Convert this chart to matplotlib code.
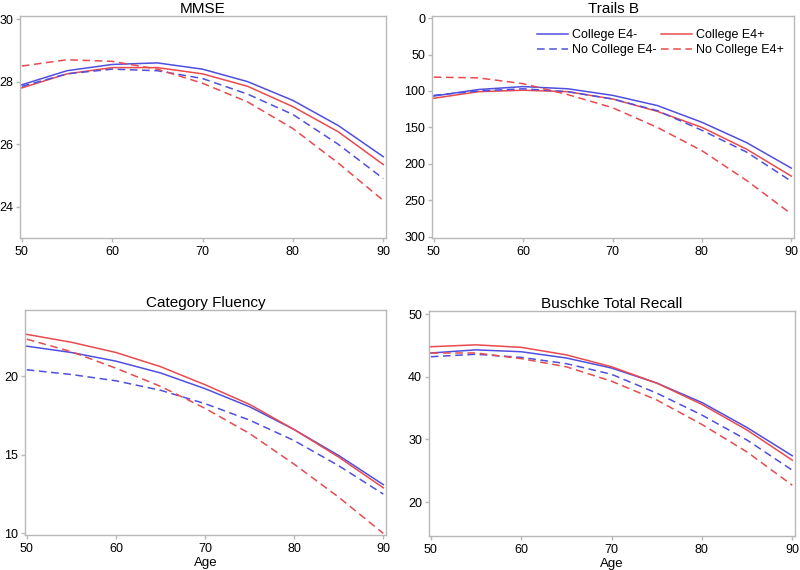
import numpy as np
import matplotlib
matplotlib.use("Agg")
import matplotlib.pyplot as plt

plt.rcParams['font.family'] = ['Liberation Sans', 'DejaVu Sans']

ages = [50, 55, 60, 65, 70, 75, 80, 85, 90]
group_names = ["College E4-", "College E4+", "No College E4-", "No College E4+"]

# MMSE
mmse_col_neg = [27.9, 28.35, 28.55, 28.6, 28.4, 28.0, 27.4, 26.6, 25.6]
mmse_col_pos = [27.8, 28.25, 28.45, 28.45, 28.25, 27.85, 27.2, 26.4, 25.35]
mmse_nocol_neg = [27.85, 28.25, 28.4, 28.35, 28.1, 27.6, 26.95, 26.0, 24.9]
mmse_nocol_pos = [28.5, 28.7, 28.65, 28.4, 27.95, 27.35, 26.5, 25.4, 24.2]

# Trails B
trails_col_neg = [107, 98, 94, 97, 106, 120, 143, 171, 206]
trails_col_pos = [110, 101, 99, 101, 111, 128, 150, 180, 217]
trails_nocol_neg = [106, 100, 97, 101, 111, 127, 154, 184, 224]
trails_nocol_pos = [81, 82, 90, 105, 123, 150, 182, 223, 269]

# Category Fluency
fluency_col_neg = [21.9, 21.5, 20.95, 20.2, 19.2, 18.05, 16.6, 14.95, 13.1]
fluency_col_pos = [22.65, 22.15, 21.5, 20.6, 19.45, 18.2, 16.6, 14.85, 12.9]
fluency_nocol_neg = [20.4, 20.1, 19.7, 19.1, 18.25, 17.2, 15.9, 14.3, 12.5]
fluency_nocol_pos = [22.35, 21.55, 20.5, 19.35, 17.95, 16.35, 14.4, 12.3, 10.0]

# Buschke Total Recall
buschke_col_neg = [43.8, 44.3, 44.0, 43.0, 41.4, 39.0, 35.9, 31.9, 27.4]
buschke_col_pos = [44.8, 45.1, 44.7, 43.5, 41.6, 39.0, 35.6, 31.5, 26.7]
buschke_nocol_neg = [43.2, 43.6, 43.1, 42.1, 40.4, 37.4, 33.9, 29.9, 25.1]
buschke_nocol_pos = [43.8, 43.8, 42.9, 41.6, 39.3, 36.3, 32.4, 28.0, 22.7]

blue = '#4f4fe0'
red = '#e84a4e'
styles = [(blue, '-'), (red, '-'), (blue, (0, (5, 3))), (red, (0, (5, 3)))]

panels = [
    ("MMSE", [mmse_col_neg, mmse_col_pos, mmse_nocol_neg, mmse_nocol_pos],
     (23.0, 30.1), [24, 26, 28, 30]),
    ("Trails B", [trails_col_neg, trails_col_pos, trails_nocol_neg, trails_nocol_pos],
     (302, -3), [0, 50, 100, 150, 200, 250, 300]),
    ("Category Fluency", [fluency_col_neg, fluency_col_pos, fluency_nocol_neg, fluency_nocol_pos],
     (9.9, 24.2), [10, 15, 20]),
    ("Buschke Total Recall", [buschke_col_neg, buschke_col_pos, buschke_nocol_neg, buschke_nocol_pos],
     (14.6, 50.5), [20, 30, 40, 50]),
]

fig = plt.figure(figsize=(8.0, 5.7), dpi=100)
W, H = 800, 570
boxes = [(20, 16, 386, 238), (432, 16, 794, 238), (25, 310, 386, 535), (429, 311, 795, 536)]

for i, (title, series, ylim, yticks) in enumerate(panels):
    x0, y0, x1, y1 = boxes[i]
    ax = fig.add_axes([x0 / W, 1 - y1 / H, (x1 - x0) / W, (y1 - y0) / H])
    lines = []
    for vals, (c, ls), name in zip(series, styles, group_names):
        ln, = ax.plot(ages, vals, color=c, linestyle=ls, linewidth=1.1, label=name)
        lines.append(ln)
    ax.set_xlim(49.8, 90.3)
    ax.set_ylim(*ylim)
    ax.set_xticks([50, 60, 70, 80, 90])
    ax.set_yticks(yticks)
    ax.set_title(title, fontsize=11, pad=1)
    for sp in ax.spines.values():
        sp.set_color('#b8b8b8')
        sp.set_linewidth(1.0)
    ax.tick_params(colors='#b8b8b8', labelcolor='black', labelsize=9, length=3, width=1.0, pad=2)
    ax.tick_params(axis='x', pad=3)
    if i >= 2:
        ax.set_xlabel("Age", fontsize=9.5, labelpad=1)
    if i == 1:
        order = [lines[0], lines[2], lines[1], lines[3]]
        ax.legend(order, [l.get_label() for l in order], ncol=2, frameon=False,
                  loc='upper right', fontsize=9, handlelength=2.5, columnspacing=0.3,
                  labelspacing=0.25, handletextpad=0.35, borderaxespad=0.4,
                  bbox_to_anchor=(1.0, 0.985))

fig.savefig("out.png", dpi=100)
